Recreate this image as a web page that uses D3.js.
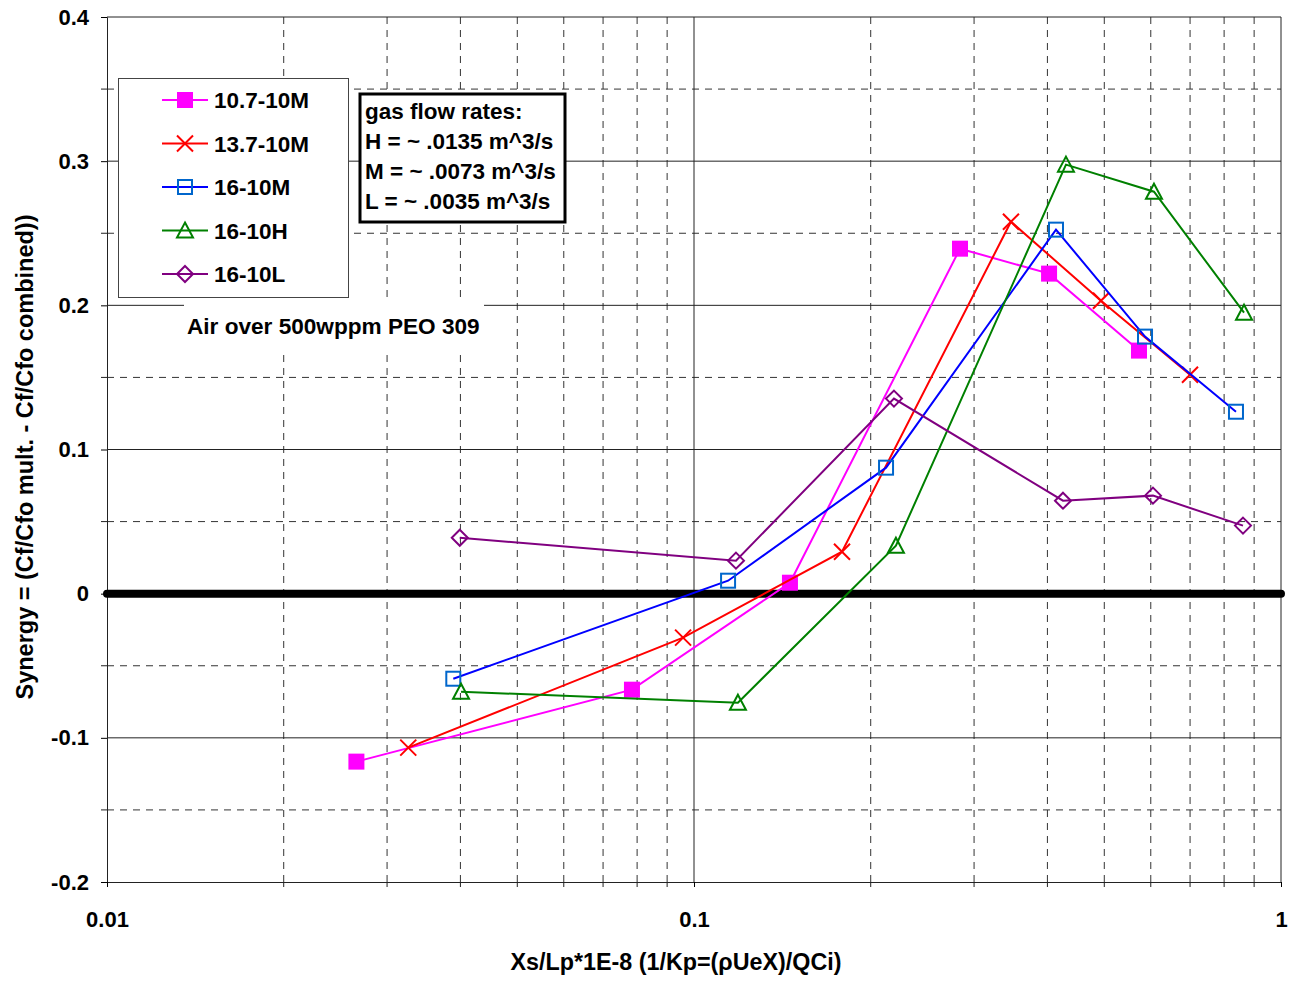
<!DOCTYPE html>
<html>
<head>
<meta charset="utf-8">
<script src="https://cdn.jsdelivr.net/npm/d3@7"></script>
<style>
  html, body { margin: 0; padding: 0; background: #fff; }
  svg text { font-family: "Liberation Sans", Arial, sans-serif; font-weight: bold; fill: #000; }
</style>
</head>
<body>
<svg id="chart" width="1291" height="981"></svg>
<script>
// Synergy vs Xs/Lp*1E-8, air over 500wppm PEO 309
const seriesNames = ["10.7-10M", "13.7-10M", "16-10M", "16-10H", "16-10L"];

const x107 = [0.0266, 0.0784, 0.1457, 0.2839, 0.4026, 0.5729];
const y107 = [-0.1165, -0.0666, 0.0076, 0.2393, 0.2220, 0.1686];

const x137 = [0.0326, 0.0958, 0.1787, 0.3467, 0.4935, 0.6998];
const y137 = [-0.1068, -0.0305, 0.0291, 0.2580, 0.2032, 0.1519];

const x16M = [0.0389, 0.1143, 0.2124, 0.4137, 0.5866, 0.8381];
const y16M = [-0.0590, 0.0090, 0.0874, 0.2525, 0.1783, 0.1262];

const x16H = [0.0401, 0.1188, 0.2208, 0.4302, 0.6076, 0.8650];
const y16H = [-0.0680, -0.0756, 0.0333, 0.2976, 0.2788, 0.1949];

const x16L = [0.0399, 0.1179, 0.2191, 0.4252, 0.6052, 0.8615];
const y16L = [0.0388, 0.0229, 0.1353, 0.0645, 0.0680, 0.0472];

const zeroLineX = [0.01, 1];
const zeroLineY = [0, 0];

const xTickValues = [0.01, 0.1, 1];
const xTickLabels = ["0.01", "0.1", "1"];
const yTickValues = [-0.2, -0.1, 0, 0.1, 0.2, 0.3, 0.4];
const yTickLabels = ["-0.2", "-0.1", "0", "0.1", "0.2", "0.3", "0.4"];

const flowNotes = ["gas flow rates:", "H = ~ .0135 m^3/s", "M = ~ .0073 m^3/s", "L = ~ .0035 m^3/s"];
const caption = "Air over 500wppm PEO 309";
const xTitle = "Xs/Lp*1E-8 (1/Kp=(\u03C1UeX)/QCi)";
const yTitle = "Synergy = (Cf/Cfo mult. - Cf/Cfo combined))";

const styles = [
  { line: "#FF00FF", marker: "#FF00FF", shape: "fsquare" },
  { line: "#FF0000", marker: "#FF0000", shape: "cross" },
  { line: "#0000FF", marker: "#0066CC", shape: "osquare" },
  { line: "#008000", marker: "#008000", shape: "triangle" },
  { line: "#800080", marker: "#800080", shape: "diamond" }
];
const seriesX = [x107, x137, x16M, x16H, x16L];
const seriesY = [y107, y137, y16M, y16H, y16L];

const svg = d3.select("#chart");
const L = 107, R = 1281, T = 17, B = 882;
const x = d3.scaleLog().domain([0.01, 1]).range([L, R]);
const y = d3.scaleLinear().domain([-0.2, 0.4]).range([B, T]);

// grid
const grid = svg.append("g");
const minorX = [];
[0.01, 0.1].forEach(d => { for (let k = 2; k <= 9; k++) minorX.push(d * k); });
grid.selectAll(".vx").data(minorX).join("line")
  .attr("x1", d => x(d)).attr("x2", d => x(d)).attr("y1", T).attr("y2", B)
  .attr("stroke", "#333").attr("stroke-width", 1).attr("stroke-dasharray", "7,6");
const halfY = d3.range(-0.15, 0.4, 0.1);
grid.selectAll(".hy").data(halfY).join("line")
  .attr("x1", L).attr("x2", R).attr("y1", d => y(d)).attr("y2", d => y(d))
  .attr("stroke", "#333").attr("stroke-width", 1).attr("stroke-dasharray", "7,6");
grid.selectAll(".vmaj").data([0.1, 1]).join("line")
  .attr("x1", d => x(d)).attr("x2", d => x(d)).attr("y1", T).attr("y2", B)
  .attr("stroke", "#222").attr("stroke-width", 1);
grid.selectAll(".hmaj").data([-0.1, 0, 0.1, 0.2, 0.3, 0.4]).join("line")
  .attr("x1", L).attr("x2", R).attr("y1", d => y(d)).attr("y2", d => y(d))
  .attr("stroke", "#222").attr("stroke-width", 1);

// axes
const yAxis = d3.axisLeft(y).tickValues(yTickValues)
  .tickFormat((d, i) => yTickLabels[i]).tickSize(6).tickPadding(12);
const gy = svg.append("g").attr("transform", `translate(${L},0)`).call(yAxis);
gy.selectAll(".tick text").style("font-size", "22px");
gy.select(".domain").attr("stroke", "#222");
svg.append("g").selectAll("line").data(halfY).join("line")
  .attr("x1", L - 6).attr("x2", L).attr("y1", d => y(d)).attr("y2", d => y(d)).attr("stroke", "#222");

const xAxis = d3.axisBottom(x).tickValues(xTickValues)
  .tickFormat((d, i) => xTickLabels[i]).tickSize(5).tickPadding(24);
const gx = svg.append("g").attr("transform", `translate(0,${B})`).call(xAxis);
gx.selectAll(".tick text").style("font-size", "22px");
gx.select(".domain").attr("stroke", "#222");
svg.append("g").selectAll("line").data(minorX).join("line")
  .attr("x1", d => x(d)).attr("x2", d => x(d)).attr("y1", B).attr("y2", B + 5).attr("stroke", "#222");

// axis titles
svg.append("text").attr("x", 676).attr("y", 970).attr("text-anchor", "middle")
  .style("font-size", "23.3px").text(xTitle);
svg.append("text").attr("transform", `translate(33,457) rotate(-90)`)
  .attr("text-anchor", "middle").style("font-size", "23.5px").text(yTitle);

// legend box
svg.append("rect").attr("x", 118.5).attr("y", 78.5).attr("width", 230).attr("height", 219)
  .attr("fill", "#fff").attr("stroke", "#444").attr("stroke-width", 1);

// caption with white backing
svg.append("rect").attr("x", 184).attr("y", 303).attr("width", 300).attr("height", 49).attr("fill", "#fff");
svg.append("text").attr("x", 187).attr("y", 334).style("font-size", "22.6px").text(caption);

// flow-rate note
svg.append("rect").attr("x", 360).attr("y", 94).attr("width", 205).attr("height", 128)
  .attr("fill", "#fff").attr("stroke", "#000").attr("stroke-width", 3);
svg.append("g").selectAll("text").data(flowNotes).join("text")
  .attr("x", 365).attr("y", (d, i) => 119 + i * 30).style("font-size", "22.5px").text(d => d);

// marker drawing
function drawMarker(g, shape, color, cx, cy) {
  const s = 8;
  if (shape === "fsquare") {
    g.append("rect").attr("x", cx - s).attr("y", cy - s).attr("width", 2 * s).attr("height", 2 * s).attr("fill", color);
  } else if (shape === "osquare") {
    g.append("rect").attr("x", cx - 7).attr("y", cy - 7).attr("width", 14).attr("height", 14)
      .attr("fill", "none").attr("stroke", color).attr("stroke-width", 2);
  } else if (shape === "cross") {
    g.append("path").attr("d", `M${cx - s},${cy - s}L${cx + s},${cy + s}M${cx - s},${cy + s}L${cx + s},${cy - s}`)
      .attr("stroke", color).attr("stroke-width", 2).attr("fill", "none");
  } else if (shape === "triangle") {
    g.append("path").attr("d", `M${cx},${cy - 8}L${cx + 8},${cy + 7}L${cx - 8},${cy + 7}Z`)
      .attr("stroke", color).attr("stroke-width", 2).attr("fill", "none");
  } else if (shape === "diamond") {
    g.append("path").attr("d", `M${cx},${cy - 8}L${cx + 8},${cy}L${cx},${cy + 8}L${cx - 8},${cy}Z`)
      .attr("stroke", color).attr("stroke-width", 2).attr("fill", "none");
  }
}

// zero reference line
const lineGen = d3.line().x(d => x(d[0])).y(d => y(d[1]));
svg.append("path").datum(zeroLineX.map((v, i) => [v, zeroLineY[i]]))
  .attr("d", lineGen).attr("stroke", "#000").attr("stroke-width", 8)
  .attr("stroke-linecap", "round").attr("fill", "none");

// series
seriesNames.forEach((name, k) => {
  const pts = seriesX[k].map((v, i) => [v, seriesY[k][i]]);
  const g = svg.append("g");
  g.append("path").datum(pts).attr("d", lineGen).attr("fill", "none")
    .attr("stroke", styles[k].line).attr("stroke-width", 2);
  pts.forEach(p => drawMarker(g, styles[k].shape, styles[k].marker, x(p[0]), y(p[1])));
});

// legend entries
seriesNames.forEach((name, k) => {
  const ly = 100 + k * 43.5;
  const g = svg.append("g");
  g.append("line").attr("x1", 162).attr("x2", 208).attr("y1", ly).attr("y2", ly)
    .attr("stroke", styles[k].line).attr("stroke-width", 2);
  drawMarker(g, styles[k].shape, styles[k].marker, 185, ly);
  g.append("text").attr("x", 214).attr("y", ly + 8).style("font-size", "22.5px").text(name);
});
</script>
</body>
</html>
